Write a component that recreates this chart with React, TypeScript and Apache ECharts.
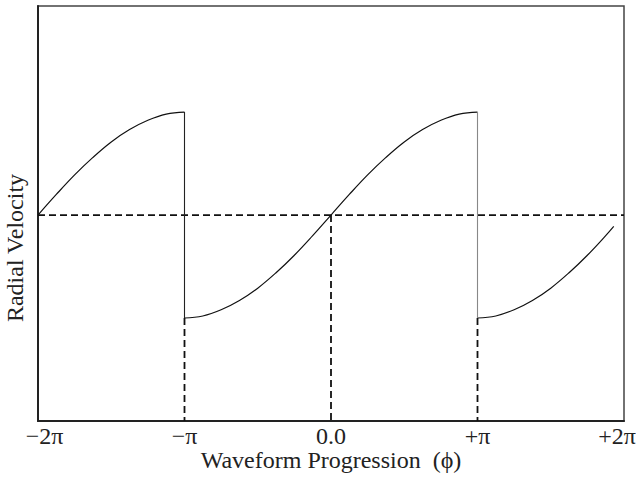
import React, { useEffect, useRef } from "react";
import * as echarts from "echarts";

// x in units of π
const X_TICKS = [-2, -1, 0, 1, 2];
const X_TICK_LABELS = ["−2π", "−π", "0.0", "+π", "+2π"];

// Curve segments (phase in units of π, velocity normalised)
const SEG_A_PHI = [-2, -1.875, -1.75, -1.625, -1.5, -1.375, -1.25, -1.125, -1.0];
const SEG_A_V = [0, 0.2, 0.39, 0.56, 0.71, 0.83, 0.92, 0.98, 1.0];

const SEG_B_PHI = [
  -1, -0.875, -0.75, -0.625, -0.5, -0.375, -0.25, -0.125, 0, 0.125, 0.25, 0.375, 0.5, 0.625,
  0.75, 0.875, 1.0,
];
const SEG_B_V = [
  -1, -0.98, -0.92, -0.83, -0.71, -0.56, -0.39, -0.2, 0, 0.2, 0.39, 0.56, 0.71, 0.83, 0.92,
  0.98, 1.0,
];

const SEG_C_PHI = [1, 1.125, 1.25, 1.375, 1.5, 1.625, 1.75, 1.875, 1.93];
const SEG_C_V = [-1, -0.98, -0.92, -0.83, -0.71, -0.56, -0.39, -0.2, -0.11];

// jumps (solid) and guides (dashed)
const JUMP_PHI = [-1, 1];
const JUMP_TOP = 1;
const JUMP_BOTTOM = -1;
const GUIDE_PHI = [-1, 0, 1];
const GUIDE_FROM = [-1, 0, -1];

const Y_MIN = -2;
const Y_MAX = 2.03;

const FONT = "'Liberation Serif', 'Times New Roman', serif";
const FS = 24;

function zip(a: number[], b: number[]) {
  return a.map((v, i) => [v, b[i]]);
}

export default function App() {
  const ref = useRef<HTMLDivElement>(null);
  useEffect(() => {
    document.body.style.margin = "0";
    const chart = echarts.init(ref.current!, null, { renderer: "svg" });
    const curveStyle = { color: "#111", width: 1.2 };
    const dashStyle = { color: "#111", width: 1.8, type: [7, 4] as any };
    const series: any[] = [
      { data: zip(SEG_A_PHI, SEG_A_V) },
      { data: zip(SEG_B_PHI, SEG_B_V) },
      { data: zip(SEG_C_PHI, SEG_C_V) },
    ].map((s) => ({
      type: "line",
      data: s.data,
      smooth: 0.4,
      showSymbol: false,
      symbol: "none",
      lineStyle: curveStyle,
      z: 3,
    }));
    JUMP_PHI.forEach((p, i) => {
      series.push({
        type: "line",
        data: [
          [p, JUMP_TOP],
          [p, JUMP_BOTTOM],
        ],
        symbol: "none",
        lineStyle: { color: i === 0 ? "#222" : "#888", width: 1.1 },
        z: 3,
      });
    });
    series.push({
      type: "line",
      data: [
        [X_TICKS[0], 0],
        [X_TICKS[X_TICKS.length - 1], 0],
      ],
      symbol: "none",
      lineStyle: dashStyle,
      z: 2,
    });
    GUIDE_PHI.forEach((p, i) => {
      series.push({
        type: "line",
        data: [
          [p, GUIDE_FROM[i]],
          [p, Y_MIN],
        ],
        symbol: "none",
        lineStyle: dashStyle,
        z: 2,
      });
    });

    const tickStyle = { fontSize: FS, color: "#222", fontFamily: FONT };

    chart.setOption({
      animation: false,
      grid: {
        left: 38,
        right: 12,
        top: 6,
        bottom: 56,
        outerBoundsMode: "none",
        containLabel: false,
        show: true,
        borderColor: "#444",
        borderWidth: 1.5,
      },
      xAxis: {
        type: "value",
        min: -2,
        max: 2,
        interval: 1,
        axisLine: { show: true, onZero: false, lineStyle: { color: "#222", width: 2 } },
        axisTick: { show: false },
        splitLine: { show: false },
        axisLabel: {
          margin: 3,
          ...tickStyle,
          formatter: (v: number) => {
            const i = X_TICKS.indexOf(Math.round(v));
            const t = X_TICK_LABELS[i] ?? "";
            if (i === 0) return "{first|" + t + "}";
            if (i === X_TICKS.length - 1) return "{last|" + t + "}";
            return t;
          },
          rich: {
            first: { ...tickStyle, padding: [0, 0, 0, 13] },
            last: { ...tickStyle, padding: [0, 14, 0, 0] },
          },
        },
        name: "Waveform Progression \u00a0(ϕ)",
        nameLocation: "middle",
        nameMoveOverlap: false,
        nameGap: 27,
        nameTextStyle: { fontSize: FS, color: "#222", fontFamily: FONT },
      },
      yAxis: {
        type: "value",
        min: Y_MIN,
        max: Y_MAX,
        axisLine: { show: true, onZero: false, lineStyle: { color: "#222", width: 2 } },
        axisTick: { show: false },
        axisLabel: { show: false },
        splitLine: { show: false },
        name: "Radial Velocity",
        nameLocation: "middle",
        nameRotate: 90,
        nameGap: 11,
        nameTextStyle: {
          fontSize: FS,
          color: "#222",
          fontFamily: FONT,
          padding: [0, 69, 0, 0],
        },
      },
      series,
    });
    return () => chart.dispose();
  }, []);
  return <div ref={ref} style={{ width: 636, height: 477 }} />;
}
